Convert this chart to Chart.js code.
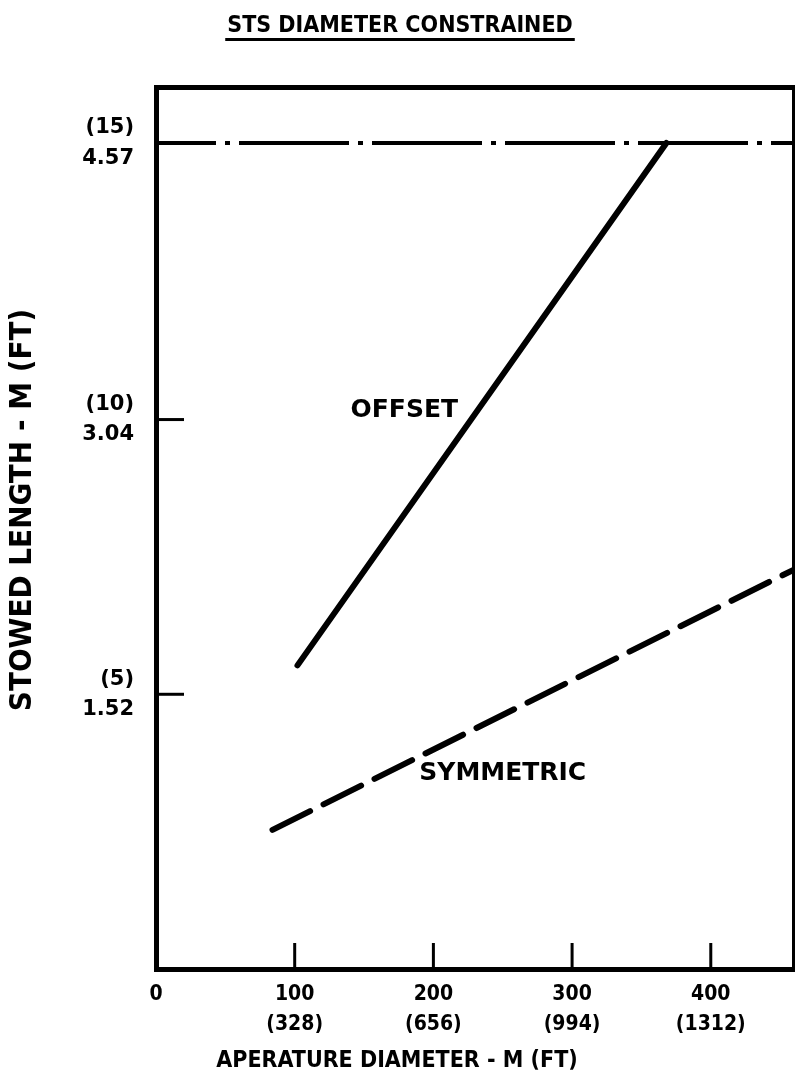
<!DOCTYPE html>
<html>
<head>
<meta charset="utf-8">
<script src="https://cdn.jsdelivr.net/npm/chart.js@4.4.1/dist/chart.umd.min.js"></script>
<style>
  html, body { margin: 0; padding: 0; background: #fff; }
  .chart-box { width: 795px; height: 1079px; position: relative; }
</style>
</head>
<body>
<div class="chart-box"><canvas id="stowChart"></canvas></div>
<script>
const FONT = '"DejaVu Sans Condensed", "DejaVu Sans", sans-serif';
const WIDE_FONT = '"DejaVu Sans", sans-serif';

// aperture diameter (m) -> stowed length (m)
const offsetDiameter = [102, 368];
const offsetLength = [1.68, 4.57];
const symmetricDiameter = [84, 460];
const symmetricLength = [0.77, 2.21];
const stsLimit = 4.57;

const xTickValues = [0, 100, 200, 300, 400];
const xTickFeet = ["", "(328)", "(656)", "(994)", "(1312)"];
const yTickValues = [1.52, 3.04, 4.57];
const yTickFeet = ["(5)", "(10)", "(15)"];

const X_MAX = 460;
const Y_MAX = 4.88;

const toPoints = (xs, ys) => xs.map((x, i) => ({ x: x, y: ys[i] }));

// little inward tick marks, like the hand-drawn original
const innerTicks = {
  id: "innerTicks",
  afterDatasetsDraw(chart) {
    const { ctx, chartArea, scales } = chart;
    ctx.save();
    ctx.strokeStyle = "#000";
    ctx.lineWidth = 3;
    xTickValues.forEach((v) => {
      if (v === 0) return;
      const px = scales.x.getPixelForValue(v);
      ctx.beginPath();
      ctx.moveTo(px, chartArea.bottom);
      ctx.lineTo(px, chartArea.bottom - 26);
      ctx.stroke();
    });
    yTickValues.forEach((v) => {
      const py = scales.y.getPixelForValue(v);
      ctx.beginPath();
      ctx.moveTo(chartArea.left, py);
      ctx.lineTo(chartArea.left + 28, py);
      ctx.stroke();
    });
    ctx.restore();
  },
};

// titles and curve labels
const chartTexts = {
  id: "chartTexts",
  afterDraw(chart, args, opts) {
    const { ctx, scales } = chart;
    ctx.save();
    ctx.fillStyle = "#000";

    // main title with underline
    ctx.font = "bold 23px " + FONT;
    ctx.textAlign = "center";
    ctx.textBaseline = "alphabetic";
    ctx.fillText(opts.title, 400, 32);
    const w = ctx.measureText(opts.title).width;
    ctx.fillRect(400 - w / 2 - 2, 38, w + 4, 3);

    // x axis title
    ctx.font = "bold 23px " + FONT;
    ctx.fillText(opts.xTitle, 397, 1067);

    // y axis title
    ctx.save();
    ctx.translate(23, 510);
    ctx.rotate(-Math.PI / 2);
    ctx.font = "bold 31px " + FONT;
    ctx.textBaseline = "middle";
    ctx.fillText(opts.yTitle, 0, 0);
    ctx.restore();

    // curve labels
    ctx.font = "bold 25px " + WIDE_FONT;
    ctx.textBaseline = "middle";
    opts.labels.forEach((l) => {
      ctx.fillText(l.text, scales.x.getPixelForValue(l.x), scales.y.getPixelForValue(l.y));
    });
    ctx.restore();
  },
};

const axisBorder = { display: true, color: "#000", width: 5 };

new Chart(document.getElementById("stowChart"), {
  type: "line",
  data: {
    datasets: [
      {
        label: "OFFSET",
        data: toPoints(offsetDiameter, offsetLength),
        borderColor: "#000",
        borderWidth: 6,
        borderCapStyle: "round",
        pointRadius: 0,
      },
      {
        label: "SYMMETRIC",
        data: toPoints(symmetricDiameter, symmetricLength),
        borderColor: "#000",
        borderWidth: 6,
        borderDash: [42, 15],
        borderCapStyle: "round",
        pointRadius: 0,
      },
      {
        label: "STS",
        data: toPoints([0, X_MAX], [stsLimit, stsLimit]),
        borderColor: "#000",
        borderWidth: 4,
        borderDash: [110, 9, 5, 9],
        borderDashOffset: 50,
        pointRadius: 0,
      },
    ],
  },
  options: {
    responsive: true,
    maintainAspectRatio: false,
    animation: false,
    layout: { padding: 0 },
    plugins: {
      legend: { display: false },
      tooltip: { enabled: false },
      chartTexts: {
        title: "STS DIAMETER CONSTRAINED",
        xTitle: "APERATURE DIAMETER - M (FT)",
        yTitle: "STOWED LENGTH - M (FT)",
        labels: [
          { text: "OFFSET", x: 179, y: 3.09 },
          { text: "SYMMETRIC", x: 250, y: 1.08 },
        ],
      },
    },
    scales: {
      x: {
        type: "linear",
        position: "bottom",
        min: 0,
        max: X_MAX,
        afterBuildTicks: (s) => {
          s.ticks = xTickValues.map((v) => ({ value: v }));
        },
        afterFit: (s) => {
          s.height = 110;
        },
        grid: { display: false, drawTicks: false },
        border: axisBorder,
        ticks: {
          padding: 10,
          color: "#000",
          font: { family: FONT, size: 21, weight: "bold", lineHeight: 1.45 },
          maxRotation: 0,
          autoSkip: false,
          callback: (v) => {
            const i = xTickValues.indexOf(v);
            return xTickFeet[i] ? [String(v), xTickFeet[i]] : String(v);
          },
        },
      },
      xTop: {
        type: "linear",
        position: "top",
        min: 0,
        max: X_MAX,
        afterFit: (s) => {
          s.height = 87;
        },
        grid: { display: false, drawTicks: false },
        border: axisBorder,
        ticks: { display: false },
      },
      y: {
        type: "linear",
        position: "left",
        min: 0,
        max: Y_MAX,
        afterBuildTicks: (s) => {
          s.ticks = yTickValues.map((v) => ({ value: v }));
        },
        afterFit: (s) => {
          s.width = 156;
        },
        grid: { display: false, drawTicks: false },
        border: axisBorder,
        ticks: {
          padding: 22,
          color: "#000",
          font: { family: WIDE_FONT, size: 21, weight: "bold", lineHeight: 1.45 },
          callback: (v) => {
            const i = yTickValues.indexOf(v);
            return [yTickFeet[i], v.toFixed(2)];
          },
        },
      },
      yRight: {
        type: "linear",
        position: "right",
        min: 0,
        max: Y_MAX,
        afterFit: (s) => {
          s.width = 1;
        },
        grid: { display: false, drawTicks: false },
        border: axisBorder,
        ticks: { display: false },
      },
    },
  },
  plugins: [innerTicks, chartTexts],
});
</script>
</body>
</html>
